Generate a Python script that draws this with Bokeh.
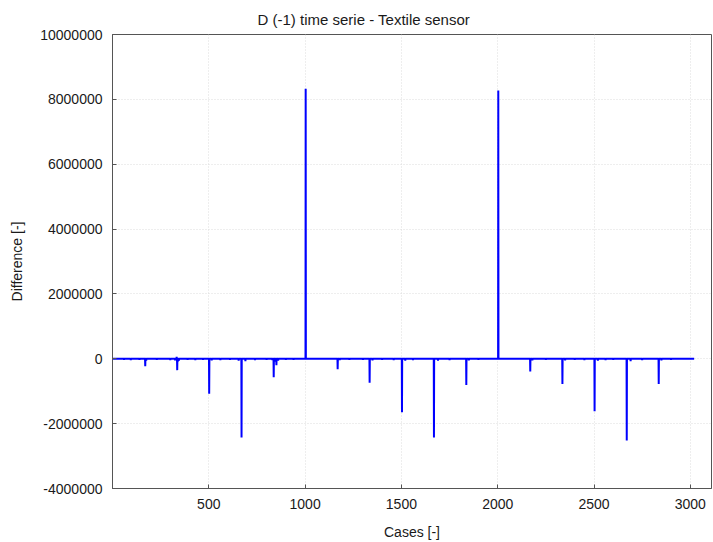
import numpy as np
from bokeh.plotting import figure
from bokeh.models import FixedTicker, PrintfTickFormatter, ColumnDataSource
from bokeh.embed import file_html
from bokeh.resources import INLINE

# ---- data ----
n_cases = 3020
spike_case = [170, 336, 502, 670, 837, 851, 1003, 1169, 1335, 1503,
              1669, 1837, 2003, 2169, 2336, 2503, 2670, 2836]
spike_value = [-230000, -350000, -1080000, -2430000, -570000, -200000,
               8330000, -320000, -740000, -1650000, -2430000, -810000,
               8270000, -390000, -780000, -1620000, -2520000, -780000]
# small fluctuations around zero
minor_case = [60, 95, 140, 175, 230, 300, 325, 333, 340, 345, 390, 430,
              470, 515, 560, 610, 655, 690, 740, 800, 830, 845, 860, 900,
              940, 1180, 1230, 1300, 1350, 1400, 1460, 1520, 1560, 1690,
              1750, 1850, 1900, 2180, 2250, 2350, 2400, 2450, 2520, 2560,
              2600, 2690, 2750, 2850, 2900]
minor_value = [-30000, -40000, -30000, -60000, -30000, -40000, -50000,
               60000, -80000, -60000, -30000, -40000, -30000, -50000,
               -40000, -30000, -60000, -70000, -40000, -30000, -40000,
               -90000, -60000, -30000, -30000, -40000, -30000, -30000,
               -50000, -30000, -40000, -60000, -40000, -60000, -40000,
               -50000, -30000, -50000, -30000, -50000, -30000, -40000,
               -60000, -40000, -30000, -70000, -40000, -50000, -30000]

x_ticks = [500, 1000, 1500, 2000, 2500, 3000]
y_ticks = [-4000000, -2000000, 0, 2000000, 4000000, 6000000, 8000000, 10000000]

cases = np.arange(1, n_cases + 1)
diff = np.zeros(n_cases)
for c, v in zip(minor_case, minor_value):
    diff[c - 1] = v
for c, v in zip(spike_case, spike_value):
    diff[c - 1] = v

src = ColumnDataSource(dict(x=cases, y=diff))

FONT = "Liberation Sans"
TXT = "#1a1a1a"

p = figure(width=713, height=542, output_backend="svg", toolbar_location=None,
           x_range=(0, 3110), y_range=(-4000000, 10000000),
           min_border_left=112, min_border_right=2, min_border_top=34,
           min_border_bottom=52,
           title="D (-1) time serie - Textile sensor")

p.line("x", "y", source=src, line_color="#0000ff", line_width=2)

p.title.text_font = FONT
p.title.text_font_size = "15px"
p.title.text_font_style = "normal"
p.title.text_color = TXT
p.title.align = "left"
p.title.offset = 145
p.title.standoff = 14

p.outline_line_color = "#555555"
p.outline_line_width = 1
p.background_fill_color = "white"
p.border_fill_color = "white"

p.xaxis.ticker = FixedTicker(ticks=x_ticks)
p.yaxis.ticker = FixedTicker(ticks=y_ticks)
p.yaxis.formatter = PrintfTickFormatter(format="%d")
p.xaxis.formatter = PrintfTickFormatter(format="%d")
p.xaxis.axis_label = "Cases [-]"
p.yaxis.axis_label = "Difference [-]"

for ax in (p.xaxis[0], p.yaxis[0]):
    ax.axis_line_color = "#555555"
    ax.major_tick_line_color = "#555555"
    ax.major_tick_in = 4
    ax.major_tick_out = 0
    ax.minor_tick_line_color = None
    ax.major_label_text_font = FONT
    ax.major_label_text_font_size = "14px"
    ax.major_label_text_color = TXT
    ax.axis_label_text_font = FONT
    ax.axis_label_text_font_size = "14px"
    ax.axis_label_text_font_style = "normal"
    ax.axis_label_text_color = TXT
    ax.major_label_standoff = 10
    ax.axis_label_standoff = 12

p.grid.grid_line_color = "#dcdcdc"
p.grid.grid_line_dash = "1 2"
p.grid.grid_line_width = 1

open("out.html", "w").write(file_html(p, INLINE))
